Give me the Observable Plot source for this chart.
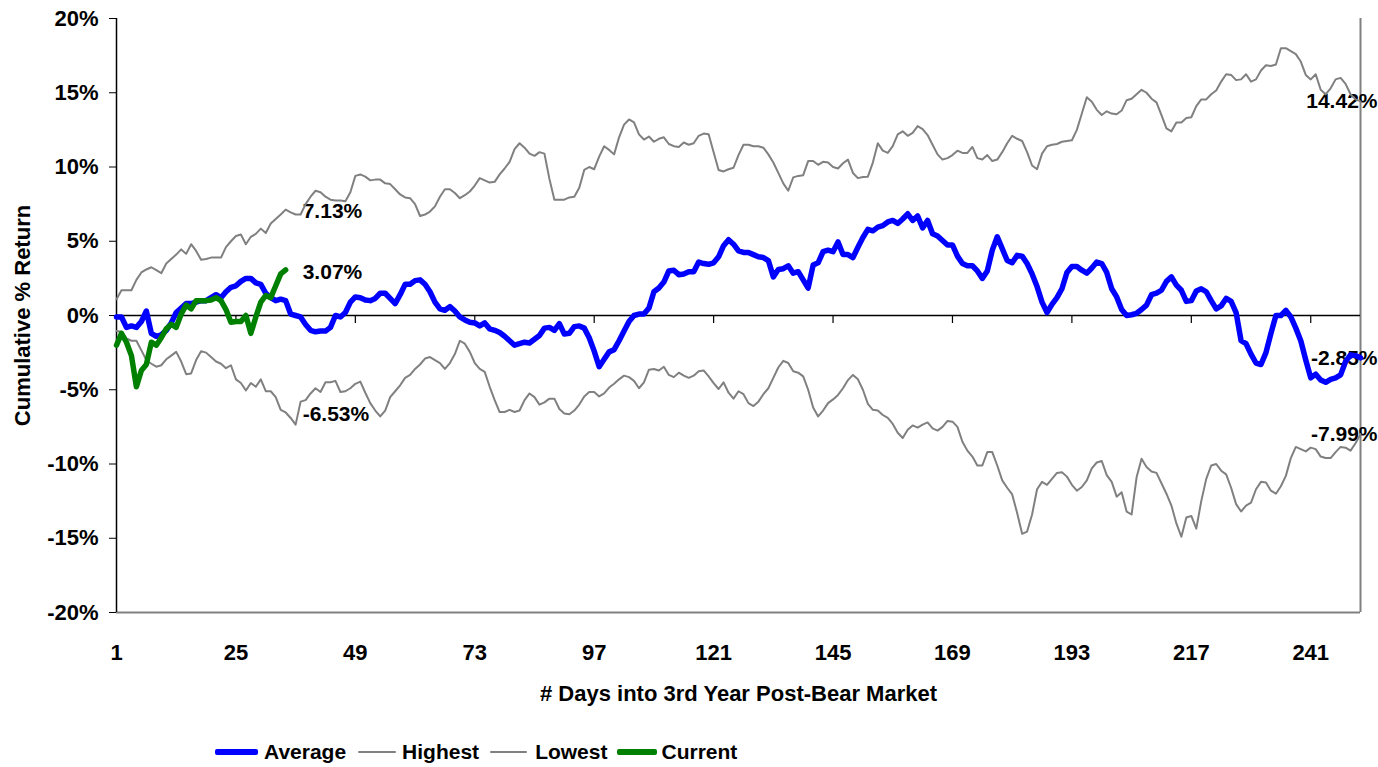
<!DOCTYPE html>
<html>
<head>
<meta charset="utf-8">
<script src="https://cdn.jsdelivr.net/npm/d3@7"></script>
<script src="https://cdn.jsdelivr.net/npm/@observablehq/plot@0.6"></script>
<style>
  html, body { margin: 0; padding: 0; background: #fff; }
  #wrap { position: relative; width: 1378px; height: 767px; font-family: "Liberation Sans", Arial, sans-serif; font-weight: bold; }
  #legend { position: absolute; top: 740px; left: 215px; display: flex; align-items: center; font-size: 21px; color: #000; white-space: nowrap; }
  #legend .sw { display: inline-block; }
</style>
</head>
<body>
<div id="wrap">
  <div id="chart"></div>
  <div id="legend"></div>
</div>
<script>
// ---- Data (cumulative % return by trading day) ----
const average = [
  -0.1, -0.1, -0.8, -0.7, -0.8, -0.4, 0.3, -1.2, -1.4, -1.3,
  -1.0, -0.5, 0.2, 0.5, 0.8, 0.8, 0.9, 1.0, 1.0, 1.2,
  1.4, 1.2, 1.6, 1.9, 2.0, 2.3, 2.5, 2.5, 2.2, 2.1,
  1.5, 1.2, 1.0, 1.1, 1.0, 0.1, 0.0, -0.1, -0.6, -1.0,
  -1.1, -1.05, -1.05, -0.8, 0.0, -0.1, 0.2, 0.9, 1.25, 1.2,
  1.05, 1.0, 1.15, 1.5, 1.5, 1.15, 0.8, 1.4, 2.1, 2.1,
  2.35, 2.4, 2.1, 1.6, 0.9, 0.45, 0.35, 0.6, 0.3, -0.1,
  -0.3, -0.45, -0.5, -0.7, -0.5, -0.9, -1.0, -1.15, -1.4, -1.7,
  -2.0, -1.9, -1.8, -1.85, -1.6, -1.35, -0.85, -0.8, -1.0, -0.55,
  -1.25, -1.2, -0.75, -0.7, -0.85, -1.5, -2.4, -3.45, -2.95, -2.45,
  -2.3, -1.7, -1.05, -0.4, 0.0, 0.1, 0.1, 0.5, 1.6, 1.85,
  2.25, 3.0, 3.05, 2.75, 2.8, 2.95, 2.95, 3.6, 3.5, 3.45,
  3.55, 3.95, 4.7, 5.1, 4.8, 4.35, 4.25, 4.25, 4.1, 3.95,
  3.9, 3.7, 2.6, 3.1, 3.15, 3.35, 2.85, 2.95, 2.4, 1.85,
  3.4, 3.55, 4.3, 4.4, 4.3, 4.95, 4.1, 4.1, 3.9, 4.6,
  5.25, 5.8, 5.7, 5.95, 6.05, 6.3, 6.4, 6.2, 6.5, 6.85,
  6.4, 6.7, 5.9, 6.4, 5.5, 5.35, 5.05, 4.75, 4.75, 4.0,
  3.5, 3.35, 3.35, 3.0, 2.5, 3.0, 4.4, 5.3, 4.5, 3.7,
  3.55, 4.05, 4.0, 3.5, 2.8, 1.95, 0.9, 0.2, 0.75, 1.2,
  1.8, 2.9, 3.3, 3.3, 3.05, 2.85, 3.2, 3.6, 3.5, 2.9,
  1.8, 1.25, 0.4, 0.0, 0.05, 0.15, 0.4, 0.7, 1.4, 1.5,
  1.7, 2.3, 2.6, 2.05, 1.7, 0.95, 1.0, 1.65, 1.8, 1.6,
  1.0, 0.45, 0.65, 1.15, 0.95, 0.2, -1.7, -1.9, -2.6, -3.2,
  -3.3, -2.5, -1.2, 0.0, 0.0, 0.35, -0.1, -0.85, -1.7, -3.0,
  -4.2, -3.95, -4.35, -4.5, -4.3, -4.2, -4.0, -3.1, -2.65, -2.7,
  -2.85
];
const highest = [
  1.1, 1.7, 1.7, 1.7, 2.4, 2.9, 3.1, 3.25, 3.05, 2.85,
  3.5, 3.8, 4.1, 4.45, 4.15, 4.8, 4.35, 3.75, 3.8, 3.9,
  3.9, 3.9, 4.6, 5.0, 5.35, 5.45, 4.8, 5.3, 5.5, 5.85,
  5.55, 6.2, 6.5, 6.8, 7.13, 6.95, 6.8, 6.8, 7.5, 8.0,
  8.4, 8.3, 8.0, 7.8, 7.75, 7.75, 7.7, 8.3, 9.4, 9.5,
  9.35, 9.1, 9.15, 9.15, 8.9, 8.85, 8.5, 8.15, 7.95, 7.9,
  7.5, 6.7, 6.8, 7.0, 7.35, 8.0, 8.5, 8.5, 8.25, 7.9,
  8.1, 8.35, 8.75, 9.25, 9.1, 8.95, 9.0, 9.5, 9.9, 10.35,
  11.2, 11.6, 11.3, 10.9, 10.75, 11.0, 10.9, 9.2, 7.8, 7.8,
  7.8, 7.95, 8.0, 8.6, 9.8, 10.0, 9.85, 10.7, 11.4, 11.15,
  10.85, 12.0, 12.85, 13.2, 13.0, 12.2, 11.85, 12.05, 11.7, 11.9,
  12.0, 11.55, 11.4, 11.35, 11.65, 11.5, 11.6, 12.1, 12.25, 12.2,
  11.0, 9.8, 9.7, 9.85, 9.95, 10.8, 11.5, 11.5, 11.4, 11.4,
  11.3, 10.85, 10.3, 9.6, 8.9, 8.4, 9.3, 9.4, 9.45, 10.4,
  10.4, 10.15, 10.35, 10.3, 10.0, 9.9, 10.25, 10.5, 9.6, 9.25,
  9.33, 9.35, 10.3, 11.6, 11.1, 10.95, 11.4, 12.2, 12.4, 12.1,
  12.3, 12.75, 12.55, 12.15, 11.5, 10.85, 10.5, 10.6, 10.8, 11.1,
  10.95, 10.95, 11.35, 10.6, 10.5, 10.8, 10.4, 10.5, 11.0, 11.6,
  12.1, 11.9, 11.75, 11.0, 10.1, 9.85, 10.9, 11.4, 11.5, 11.55,
  11.7, 11.75, 11.8, 12.5, 13.6, 14.7, 14.4, 13.85, 13.5, 13.75,
  13.6, 13.55, 13.8, 14.5, 14.6, 14.9, 15.2, 15.0, 14.6, 14.35,
  13.5, 12.6, 12.4, 13.0, 13.0, 13.3, 13.35, 14.1, 14.55, 14.55,
  14.9, 15.15, 15.75, 16.25, 16.2, 15.85, 15.9, 16.25, 15.75, 15.9,
  16.5, 16.85, 16.8, 16.9, 18.0, 18.0, 17.8, 17.6, 17.1, 16.2,
  15.9, 16.25, 15.2, 14.9, 15.3, 15.9, 16.0, 15.6, 14.9, 14.55,
  14.42
];
const lowest = [
  -1.05, -1.1, -1.55, -1.7, -1.7, -2.35, -3.0, -3.25, -3.45, -3.35,
  -2.95, -2.7, -2.45, -3.1, -3.95, -3.9, -3.0, -2.4, -2.5, -2.8,
  -3.1, -3.25, -3.55, -3.35, -4.3, -4.55, -5.05, -4.55, -4.8, -4.3,
  -5.1, -5.1, -5.5, -6.35, -6.53, -6.9, -7.35, -5.8, -5.7, -5.25,
  -4.9, -5.15, -4.5, -4.5, -4.4, -5.15, -5.1, -4.9, -4.6, -4.45,
  -5.2, -5.9, -6.4, -6.8, -6.4, -5.5, -5.1, -4.7, -4.2, -4.0,
  -3.6, -3.3, -2.9, -2.8, -3.0, -3.2, -3.6, -3.2, -2.6, -1.7,
  -1.9, -2.45, -3.2, -3.6, -3.8, -4.8, -5.7, -6.5, -6.5, -6.35,
  -6.5, -6.4, -5.7, -5.25, -5.5, -6.0, -5.85, -5.6, -5.6, -6.3,
  -6.6, -6.65, -6.4, -6.0, -5.45, -5.15, -5.15, -5.45, -5.25, -4.85,
  -4.6, -4.3, -4.05, -4.15, -4.4, -4.9, -4.5, -3.65, -3.6, -3.7,
  -3.45, -4.0, -4.15, -3.85, -4.05, -4.2, -4.05, -3.75, -3.7, -4.1,
  -4.55, -4.95, -4.5, -5.2, -5.6, -5.1, -5.3, -5.9, -6.1, -5.8,
  -5.3, -4.9, -4.2, -3.5, -3.05, -3.2, -3.75, -3.85, -4.1, -5.0,
  -6.2, -6.8, -6.4, -5.9, -5.65, -5.35, -4.9, -4.35, -4.0, -4.3,
  -5.0, -5.95, -6.35, -6.4, -6.7, -6.9, -7.3, -7.9, -8.25, -7.7,
  -7.4, -7.55, -7.35, -7.2, -7.6, -7.75, -7.5, -7.1, -7.15, -7.5,
  -8.5, -9.1, -9.5, -10.1, -10.1, -9.2, -9.2, -10.1, -11.1, -11.6,
  -12.05, -13.3, -14.7, -14.55, -13.4, -11.7, -11.2, -11.4, -11.0, -10.6,
  -10.55, -10.85, -11.4, -11.8, -11.55, -11.1, -10.3, -9.9, -9.8, -10.75,
  -11.2, -12.2, -11.9, -13.2, -13.4, -10.9, -9.65, -10.2, -10.5, -10.6,
  -11.3, -12.0, -12.8, -14.0, -14.9, -13.6, -13.5, -14.35, -12.5, -11.0,
  -10.1, -10.0, -10.45, -10.7, -11.6, -12.7, -13.2, -12.8, -12.6, -11.7,
  -11.2, -11.25, -11.8, -12.0, -11.5, -10.8, -9.6, -8.85, -9.0, -9.15,
  -8.9, -9.0, -9.5, -9.6, -9.6, -9.2, -8.85, -8.9, -9.1, -8.6,
  -7.99
];
const current = [
  -2.0, -1.2, -1.8, -2.7, -4.8, -3.7, -3.3, -1.8, -2.0, -1.5,
  -0.9, -0.6, -0.8, 0.1, 0.7, 0.45, 1.0, 1.0, 1.0, 1.05,
  1.2, 1.0, 0.4, -0.45, -0.4, -0.4, 0.0, -1.2, -0.1, 0.9,
  1.35, 1.2, 2.0, 2.8, 3.07
];
const xTicks = [1, 25, 49, 73, 97, 121, 145, 169, 193, 217, 241];
const yTicks = [-20, -15, -10, -5, 0, 5, 10, 15, 20];
const seriesNames = ["Average", "Highest", "Lowest", "Current"];
const seriesColors = ["#0000ff", "#808080", "#808080", "#008000"];
const seriesWidths = [5.5, 2, 2, 5.5];

// ---- Build tables ----
const N = average.length;
const rows = (arr) => arr.map((v, i) => ({day: i + 1, value: v}));
const fmt = (v) => v.toFixed(2) + "%";
const lastCur = current.length;
const leftLabels = [highest, current, lowest].map(a => ({day: lastCur, value: a[lastCur - 1], label: fmt(a[lastCur - 1])}));
const rightLabels = [highest, average, lowest].map(a => ({day: N, value: a[N - 1], label: fmt(a[N - 1])}));

const FONT = '"Liberation Sans", Arial, sans-serif';

const chart = Plot.plot({
  width: 1378,
  height: 730,
  marginLeft: 116,
  marginRight: 18,
  marginTop: 18,
  marginBottom: 118,
  style: {fontFamily: FONT, fontSize: "22px", fontWeight: "bold", color: "#000", background: "#fff", overflow: "visible"},
  x: {type: "linear", domain: [1, N]},
  y: {domain: [-20, 20]},
  marks: [
    Plot.ruleY([-20], {stroke: "#808080", strokeWidth: 2}),
    Plot.ruleX([N], {stroke: "#808080", strokeWidth: 2}),
    Plot.ruleY([0], {stroke: "#000", strokeWidth: 1.5}),
    Plot.ruleX(xTicks.slice(1), {y1: 0, y2: 0, insetBottom: -8, stroke: "#000", strokeWidth: 1.2}),
    Plot.ruleX([1], {stroke: "#000", strokeWidth: 1.5}),
    Plot.axisY({
      ticks: yTicks, tickFormat: d => d + "%", tickSize: 7, tickPadding: 11, fontSize: 22,
      label: "Cumulative % Return", labelAnchor: "center", labelOffset: 102, labelArrow: "none"
    }),
    Plot.axisX({
      ticks: xTicks, tickFormat: d => String(d), tickSize: 0, tickPadding: 32, fontSize: 22,
      label: "# Days into 3rd Year Post-Bear Market", labelAnchor: "center", labelOffset: 88, labelArrow: "none"
    }),
    Plot.text(leftLabels, {x: "day", y: "value", text: "label", textAnchor: "start", dx: 17, dy: 2, fontSize: 21, fontWeight: "bold", fill: "#000"}),
    Plot.text(rightLabels, {x: "day", y: "value", text: "label", textAnchor: "end", dx: 17, fontSize: 21, fontWeight: "bold", fill: "#000"}),
    Plot.line(rows(highest), {x: "day", y: "value", stroke: seriesColors[1], strokeWidth: seriesWidths[1]}),
    Plot.line(rows(lowest), {x: "day", y: "value", stroke: seriesColors[2], strokeWidth: seriesWidths[2]}),
    Plot.line(rows(average), {x: "day", y: "value", stroke: seriesColors[0], strokeWidth: seriesWidths[0]}),
    Plot.line(rows(current), {x: "day", y: "value", stroke: seriesColors[3], strokeWidth: seriesWidths[3]})
  ]
});
document.getElementById("chart").appendChild(chart);

// ---- Legend ----
const legend = document.getElementById("legend");
const swW = [43, 38, 37, 40];
const swGap = [6, 6, 8, 4];
const itemGap = [12, 11, 10, 0];
seriesNames.forEach((name, i) => {
  const sw = document.createElement("span");
  sw.className = "sw";
  sw.style.width = swW[i] + "px";
  sw.style.height = seriesWidths[i] + "px";
  sw.style.background = seriesColors[i];
  sw.style.borderRadius = "2px";
  sw.style.marginRight = swGap[i] + "px";
  const t = document.createElement("span");
  t.textContent = name;
  t.style.marginRight = itemGap[i] + "px";
  legend.appendChild(sw);
  legend.appendChild(t);
});
</script>
</body>
</html>
